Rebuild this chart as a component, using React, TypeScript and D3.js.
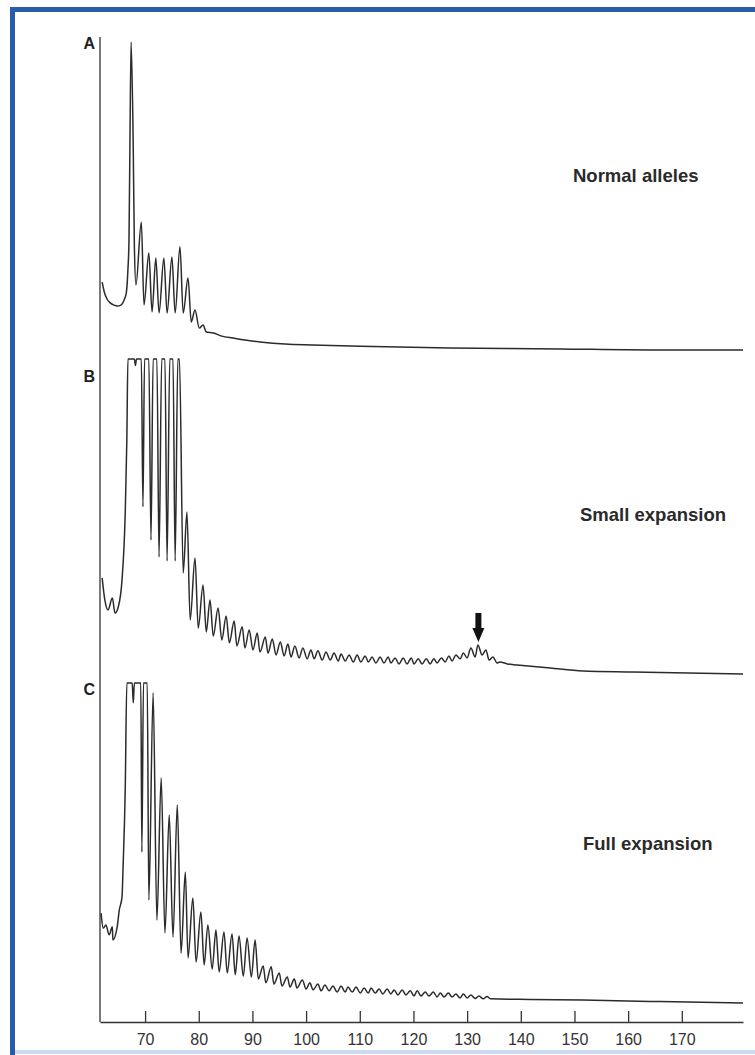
import React, { useEffect, useRef } from 'react';
import * as d3 from 'd3';

type Pt = [number, number];

// x in repeat-size units (axis), y in relative signal (0 = flat tail, 100 = saturated)
const xTicks = [70, 80, 90, 100, 110, 120, 130, 140, 150, 160, 170];
const panelLabels = ['A', 'B', 'C'];
const panelTitles = ['Normal alleles', 'Small expansion', 'Full expansion'];

const normalTrace: Pt[] = [
  [62.0, 22.8], [62.4, 19.7], [62.9, 17.5], [63.5, 16.3], [64.2, 15.6], [64.8, 15.3], [65.5, 15.6],
  [66.1, 17.2], [66.5, 19.4], [66.8, 26.6], [67.0, 35.9], [67.2, 70.3], [67.4, 97.8], [67.8, 64.1],
  [68.0, 34.4], [68.3, 21.9], [69.3, 41.6], [69.8, 15.6], [70.7, 31.9], [71.3, 13.4], [72.0, 30.3],
  [72.6, 13.1], [73.5, 30.3], [74.1, 13.1], [75.0, 30.6], [75.6, 13.1], [76.5, 33.8], [77.1, 13.1],
  [78.0, 24.1], [78.6, 10.3], [79.3, 14.1], [80.1, 8.4], [80.8, 9.4], [81.4, 7.2], [82.7, 6.9],
  [84.3, 5.9], [86.4, 5.3], [88.6, 4.7], [91.4, 4.1], [96.1, 3.4], [101.1, 3.1], [110.1, 2.7],
  [126.8, 2.2], [147.3, 1.9], [164.1, 1.6], [181.4, 1.6]
];

const smallTrace: Pt[] = [
  [62.0, 31.6], [62.5, 24.7], [63.1, 21.6], [63.9, 25.3], [64.4, 20.6], [65.0, 22.5], [65.7, 30.9],
  [66.3, 51.9], [66.6, 74.7], [66.8, 100], [68.0, 100], [68.2, 98], [68.4, 100], [69.3, 100],
  [69.6, 53.8], [69.9, 100], [70.7, 100], [71.1, 43.4], [71.5, 100], [72.2, 100], [72.6, 38.1],
  [73.1, 100], [73.7, 100], [74.1, 36.9], [74.6, 100], [75.2, 100], [75.6, 36.9], [76.1, 100],
  [76.4, 100], [77.1, 33.1], [77.8, 52.2], [78.4, 18.4], [79.3, 37.8], [79.9, 15.9], [80.8, 29.4],
  [81.4, 14.7], [82.1, 24.7], [82.7, 13.4], [83.6, 22.2], [84.3, 12.2], [85.1, 19.7], [85.7, 11.3],
  [86.6, 18.1], [87.1, 10.3], [88.1, 16.3], [88.6, 9.7], [89.4, 15.3], [90.1, 9.1], [90.9, 14.4],
  [91.4, 8.4], [92.4, 13.1], [92.9, 8.1], [93.7, 12.5], [94.4, 7.5], [95.2, 11.6], [95.9, 7.2],
  [96.6, 10.9], [97.2, 6.9], [97.9, 10.3], [98.7, 6.6], [99.4, 9.7], [100.2, 6.3], [100.9, 9.1],
  [101.5, 6.3], [102.2, 8.8], [103.0, 5.9], [103.7, 8.4], [104.5, 5.9], [105.2, 8.1], [106.0, 5.6],
  [106.5, 7.8], [107.3, 5.6], [108.0, 7.5], [108.8, 5.3], [109.5, 7.5], [110.2, 5.3], [111.0, 7.2],
  [111.6, 5.3], [112.3, 6.9], [113.0, 5.0], [113.8, 6.9], [114.5, 5.0], [115.3, 6.9], [115.8, 5.0],
  [116.6, 6.6], [117.3, 4.7], [118.1, 6.6], [118.8, 4.7], [119.6, 6.6], [120.1, 4.7], [120.9, 6.3],
  [121.6, 4.7], [122.4, 6.3], [123.1, 4.7], [123.8, 6.3], [124.4, 5.0], [125.2, 6.6], [125.9, 5.3],
  [126.6, 7.2], [127.2, 5.6], [127.9, 7.5], [128.7, 6.3], [129.3, 8.1], [130.0, 6.6], [130.7, 9.7],
  [131.5, 6.9], [132.0, 10.6], [132.8, 7.5], [133.5, 9.1], [134.1, 5.9], [134.8, 6.9], [135.6, 5.0],
  [136.1, 5.3], [137.5, 4.7], [139.3, 4.4], [145.5, 3.4], [151.6, 2.5], [160.9, 2.2], [181.4, 1.6]
];

const fullTrace: Pt[] = [
  [61.8, 28.1], [62.2, 23.4], [62.7, 24.4], [63.3, 21.3], [63.9, 23.8], [64.0, 19.7], [64.8, 23.8],
  [65.2, 29.1], [65.7, 33.1], [65.9, 42.5], [66.3, 66.6], [66.6, 100], [67.6, 100], [67.8, 93.8],
  [68.0, 100], [69.2, 100], [69.4, 47.2], [69.7, 100], [70.4, 100], [70.7, 32.2], [71.5, 96.9],
  [72.2, 25.9], [73.0, 70.3], [73.7, 21.9], [74.5, 58.8], [75.2, 20.6], [76.0, 61.9], [76.7, 15.6],
  [77.5, 40.9], [78.0, 14.1], [78.9, 32.8], [79.5, 12.8], [80.4, 28.4], [81.0, 11.9], [81.7, 24.4],
  [82.5, 10.6], [83.2, 22.8], [83.8, 9.7], [84.7, 22.2], [85.3, 9.4], [86.2, 21.6], [86.8, 8.8],
  [87.5, 20.9], [88.3, 8.4], [89.0, 20.3], [89.8, 8.1], [90.5, 19.7], [91.1, 7.5], [92.0, 11.6],
  [92.5, 6.3], [93.5, 11.3], [94.0, 5.9], [95.0, 9.4], [95.5, 5.3], [96.5, 8.1], [97.0, 5.0],
  [97.8, 7.5], [98.3, 4.7], [99.3, 7.2], [100.0, 4.4], [100.7, 6.3], [101.3, 4.1], [102.2, 5.9],
  [102.8, 3.8], [103.5, 5.6], [104.3, 3.8], [105.0, 5.3], [105.8, 3.4], [106.5, 5.3], [107.3, 3.4],
  [107.8, 5.0], [108.6, 3.4], [109.3, 5.0], [110.1, 3.1], [110.8, 4.7], [111.6, 3.1], [112.1, 4.7],
  [112.9, 3.1], [113.6, 4.4], [114.3, 2.8], [115.1, 4.4], [115.8, 2.8], [116.4, 4.1], [117.1, 2.5],
  [117.9, 4.1], [118.6, 2.5], [119.4, 3.8], [120.1, 2.2], [120.7, 3.8], [121.4, 2.2], [122.2, 3.4],
  [122.9, 2.2], [123.7, 3.4], [124.4, 1.9], [125.0, 3.1], [125.7, 1.9], [126.5, 3.1], [127.2, 1.9],
  [127.9, 2.8], [128.7, 1.6], [129.3, 2.8], [130.0, 1.6], [130.7, 2.5], [131.5, 1.4], [132.2, 2.2],
  [133.0, 1.3], [133.7, 2.0], [134.4, 1.3], [141.7, 1.1], [151.6, 0.9], [164.1, 0.5], [181.4, 0]
];

// the peak marked with an arrow in panel B
const markedPeak: Pt = [132.1, 10.6];

const traces = [normalTrace, smallTrace, fullTrace];

const W = 755;
const H = 1055;
const axisY = 1022;
const font = '"Liberation Sans", Arial, sans-serif';

const x = d3.scaleLinear().domain([61.6, 181.4]).range([100, 743]);

const panels = [
  { base: 355, top: 35, labelY: 49, titleX: 573, titleY: 182 },
  { base: 679, top: 359, labelY: 382, titleX: 580, titleY: 521 },
  { base: 1003, top: 683, labelY: 695, titleX: 583, titleY: 850 }
];

const App = () => {
  const axisRef = useRef<SVGGElement>(null);

  useEffect(() => {
    const g = d3.select(axisRef.current);
    g.selectAll('*').remove();
    g.call(d3.axisBottom(x).tickValues(xTicks).tickSize(-11).tickSizeOuter(0).tickPadding(12).tickFormat(d3.format('d')));
    g.select('.domain').attr('stroke', '#333').attr('stroke-width', 1.3);
    g.selectAll('.tick line').attr('stroke', '#333').attr('stroke-width', 1.3);
    g.selectAll('.tick text')
      .attr('fill', '#333')
      .style('font-family', font)
      .style('font-size', '16px');
  }, []);

  return (
    <div style={{ position: 'absolute', left: 0, top: 0 }}>
      <svg width={W} height={H} style={{ display: 'block', background: '#fff' }}>
        {/* frame */}
        <rect x={10} y={7} width={W - 10} height={5} fill="#2a5ba8" />
        <rect x={10} y={7} width={5} height={H - 7} fill="#2a5ba8" />
        <rect x={15} y={1050} width={W - 15} height={4} fill="#cddbee" />

        {/* left baseline */}
        <line x1={x(61.6)} x2={x(61.6)} y1={37} y2={axisY} stroke="#333" strokeWidth={1.3} />

        {panels.map((p, i) => {
          const y = d3.scaleLinear().domain([0, 100]).range([p.base, p.top]);
          const line = d3.line<Pt>().x(d => x(d[0])).y(d => y(d[1])).curve(d3.curveMonotoneX);
          return (
            <g key={i}>
              <path d={line(traces[i]) || ''} fill="none" stroke="#2b2b2b" strokeWidth={1.5} strokeLinejoin="round" />
              <text x={95} y={p.labelY} textAnchor="end" fontFamily={font}
                fontWeight="bold" fontSize={16} fill="#222">{panelLabels[i]}</text>
              <text x={p.titleX} y={p.titleY} fontFamily={font}
                fontWeight="bold" fontSize={18.5} fill="#2a2a2a">{panelTitles[i]}</text>
              {i === 1 && (() => {
                const ax = x(markedPeak[0]);
                const tip = y(markedPeak[1]) - 3;
                const pts = [
                  [ax - 3, tip - 29], [ax + 3, tip - 29], [ax + 3, tip - 14], [ax + 6, tip - 14],
                  [ax, tip], [ax - 6, tip - 14], [ax - 3, tip - 14]
                ].map(q => q.join(',')).join(' ');
                return <polygon points={pts} fill="#111" />;
              })()}
            </g>
          );
        })}

        <g ref={axisRef} transform={`translate(0,${axisY})`} />
      </svg>
    </div>
  );
};

export default App;
